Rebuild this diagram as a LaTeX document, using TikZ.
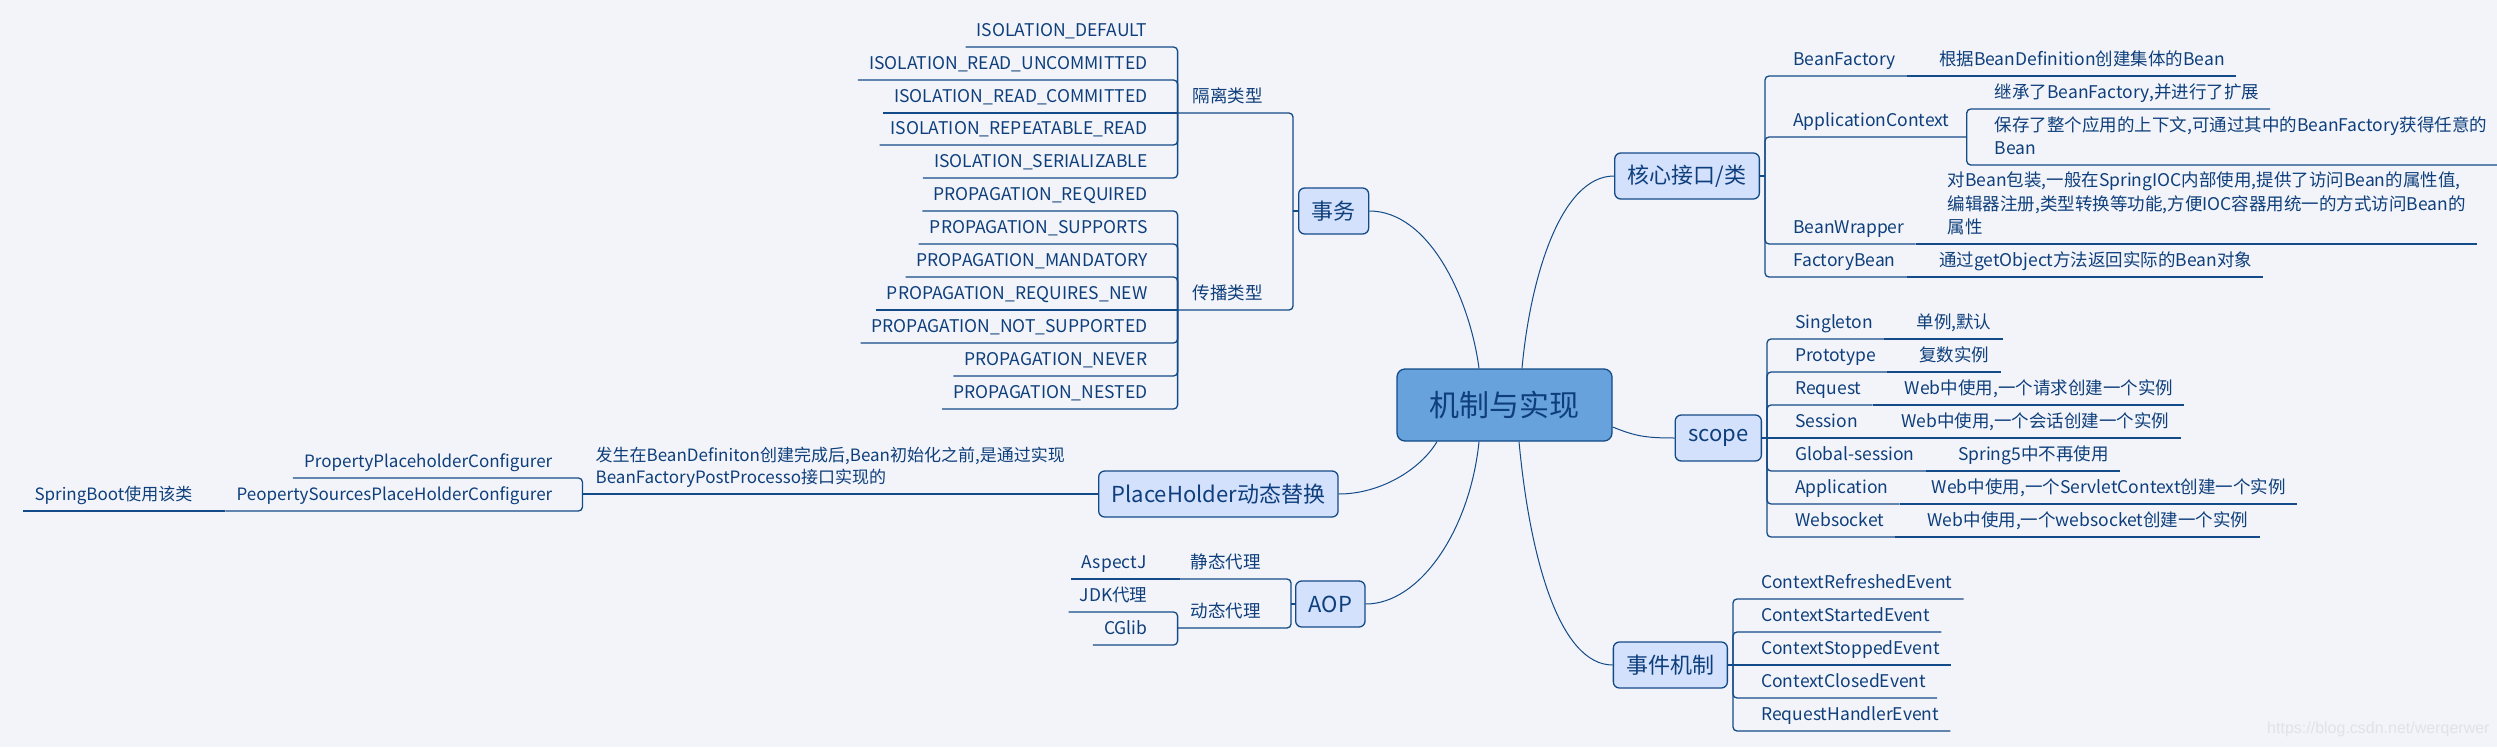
\documentclass[tikz,border=0pt]{standalone}
\usepackage{fontspec}
\setmainfont{Noto Sans CJK SC}
\newfontfamily\wmfont{Liberation Sans}
\definecolor{bgc}{HTML}{F3F4F9}
\definecolor{lnc}{HTML}{134A88}
\definecolor{txc}{HTML}{0E3F7C}
\definecolor{nfc}{HTML}{D3E1FC}
\definecolor{cfc}{HTML}{68A2DD}
\definecolor{wmc}{HTML}{E0E2E9}
\newcommand\ulstrut{\rule[-10pt]{0pt}{10pt}}
\tikzset{
  mainbox/.style={draw=lnc, line width=1.3pt, fill=nfc, rounded corners=6pt, text=txc,
    font=\fontsize{22}{26}\selectfont, minimum height=46pt, inner xsep=13pt, inner ysep=0pt},
  leafL/.style={anchor=south east, inner xsep=11pt, inner ysep=0pt, text=txc,
    font=\fontsize{17.5}{23.5}\selectfont, align=left},
  leafR/.style={anchor=south west, inner xsep=11pt, inner ysep=0pt, text=txc,
    font=\fontsize{17.5}{23.5}\selectfont, align=left},
  smallleaf/.style={font=\fontsize{17}{22}\selectfont},
  conn/.style={draw=lnc, line width=1.3pt, rounded corners=4pt},
  curv/.style={draw=lnc, line width=1pt},
}
\begin{document}
\begin{tikzpicture}[x=1pt,y=-1pt]
\fill[bgc] (0,0) rectangle (2497,747);
\path[use as bounding box] (0,0) rectangle (2497,747);

% ---------- main nodes ----------
\node[mainbox, fill=cfc, font=\fontsize{30}{36}\selectfont, minimum width=215pt, minimum height=72pt, rounded corners=8pt] (root) at (1504.5,405) {机制与实现};
\node[mainbox, anchor=west] (tx) at (1298,211) {事务};
\node[mainbox, anchor=east] (core) at (1760,176) {核心接口/类};
\node[mainbox, anchor=east] (scope) at (1762,438) {scope};
\node[mainbox, anchor=east] (ev) at (1728,665) {事件机制};
\node[mainbox, anchor=west] (aop) at (1295,604) {AOP};
\node[mainbox, anchor=west] (ph) at (1098,494) {PlaceHolder动态替换};

\draw[curv] ([xshift=-25.5]root.north) .. controls (1470,300) and (1430,211) .. (tx.east);
\draw[curv] ([xshift=17.5]root.north) .. controls (1530,280) and (1560,176) .. (core.west);
\draw[curv] ([yshift=-22]root.east) .. controls (1635,436) and (1645,438) .. (scope.west);
\draw[curv] ([xshift=14.5]root.south) .. controls (1530,560) and (1560,665) .. (ev.west);
\draw[curv] ([xshift=-25.5]root.south) .. controls (1470,530) and (1420,604) .. (aop.east);
\draw[curv] ([xshift=-67.5]root.south) .. controls (1420,470) and (1380,494) .. (ph.east);

% ---------- 事务 ----------
\coordinate (txj) at ([xshift=-5]tx.west);
\node[leafL] (iso) at (1274,113) {隔离类型\ulstrut};
\node[leafL] (prop) at (1274,310) {传播类型\ulstrut};
\coordinate (isoj) at ([xshift=-4]iso.south west);
\coordinate (propj) at ([xshift=-4]prop.south west);
\node[leafL, xshift=-19] (iso1) at (isoj |- 0,47) {ISOLATION\_DEFAULT\ulstrut};
\node[leafL, xshift=-19] (iso2) at (isoj |- 0,80) {ISOLATION\_READ\_UNCOMMITTED\ulstrut};
\node[leafL, xshift=-19] (iso3) at (isoj |- 0,113) {ISOLATION\_READ\_COMMITTED\ulstrut};
\node[leafL, xshift=-19] (iso4) at (isoj |- 0,145) {ISOLATION\_REPEATABLE\_READ\ulstrut};
\node[leafL, xshift=-19] (iso5) at (isoj |- 0,178) {ISOLATION\_SERIALIZABLE\ulstrut};
\node[leafL, xshift=-19] (prop1) at (propj |- 0,211) {PROPAGATION\_REQUIRED\ulstrut};
\node[leafL, xshift=-19] (prop2) at (propj |- 0,244) {PROPAGATION\_SUPPORTS\ulstrut};
\node[leafL, xshift=-19] (prop3) at (propj |- 0,277) {PROPAGATION\_MANDATORY\ulstrut};
\node[leafL, xshift=-19] (prop4) at (propj |- 0,310) {PROPAGATION\_REQUIRES\_NEW\ulstrut};
\node[leafL, xshift=-19] (prop5) at (propj |- 0,343) {PROPAGATION\_NOT\_SUPPORTED\ulstrut};
\node[leafL, xshift=-19] (prop6) at (propj |- 0,376) {PROPAGATION\_NEVER\ulstrut};
\node[leafL, xshift=-19] (prop7) at (propj |- 0,409) {PROPAGATION\_NESTED\ulstrut};
\draw[conn] (tx.west) -- (txj);
\draw[conn] (txj) |- (isoj);
\draw[conn] (txj) |- (propj);
\draw[conn] (isoj) |- (iso1.south west);
\draw[conn] (isoj) |- (iso2.south west);
\draw[conn] (isoj) -- (iso3.south west);
\draw[conn] (isoj) |- (iso4.south west);
\draw[conn] (isoj) |- (iso5.south west);
\draw[conn] (propj) |- (prop1.south west);
\draw[conn] (propj) |- (prop2.south west);
\draw[conn] (propj) |- (prop3.south west);
\draw[conn] (propj) -- (prop4.south west);
\draw[conn] (propj) |- (prop5.south west);
\draw[conn] (propj) |- (prop6.south west);
\draw[conn] (propj) |- (prop7.south west);

% ---------- PlaceHolder ----------
\node[leafL, smallleaf] (desc) at ([xshift=-22]ph.west) {发生在BeanDefiniton创建完成后,Bean初始化之前,是通过实现\\BeanFactoryPostProcesso接口实现的\ulstrut};
\coordinate (descj) at ([xshift=-2]desc.south west);
\node[leafL, smallleaf, xshift=-19] (pp1) at (descj |- 0,478) {PropertyPlaceholderConfigurer\ulstrut};
\node[leafL, smallleaf, xshift=-19] (pp2) at (descj |- 0,511) {PeopertySourcesPlaceHolderConfigurer\ulstrut};
\node[leafL, smallleaf] (sb) at ([xshift=-22]pp2.south west) {SpringBoot使用该类\ulstrut};
\draw[conn] (ph.west) -- (descj);
\draw[conn] (descj) |- (pp1.south west);
\draw[conn] (descj) |- (pp2.south west);
\draw[conn] (pp2.south west) -- (sb.south west);

% ---------- AOP ----------
\coordinate (aopj) at ([xshift=-4]aop.west);
\node[leafL, xshift=-19] (stat) at (aopj |- 0,579) {静态代理\ulstrut};
\node[leafL, xshift=-19] (dyn) at (aopj |- 0,628) {动态代理\ulstrut};
\node[leafL] (aspj) at ([xshift=-22]stat.south west) {AspectJ\ulstrut};
\coordinate (dynj) at ([xshift=-2]dyn.south west);
\node[leafL, xshift=-19] (jdk) at (dynj |- 0,612) {JDK代理\ulstrut};
\node[leafL, xshift=-19] (cgl) at (dynj |- 0,645) {CGlib\ulstrut};
\draw[conn] (aop.west) -- (aopj);
\draw[conn] (aopj) |- (stat.south west);
\draw[conn] (stat.south west) -- (aspj.south west);
\draw[conn] (aopj) |- (dynj);
\draw[conn] (dynj) |- (jdk.south west);
\draw[conn] (dynj) |- (cgl.south west);

% ---------- 核心接口/类 ----------
\coordinate (corej) at ([xshift=5]core.east);
\node[leafR, xshift=17] (bf) at (corej |- 0,76) {BeanFactory\ulstrut};
\node[leafR] (bfd) at ([xshift=21]bf.south east) {根据BeanDefinition创建集体的Bean\ulstrut};
\node[leafR, xshift=17] (ac) at (corej |- 0,137) {ApplicationContext\ulstrut};
\coordinate (acj) at ([xshift=6]ac.south east);
\node[leafR, xshift=17] (ac1) at (acj |- 0,109) {继承了BeanFactory,并进行了扩展\ulstrut};
\node[leafR, xshift=17] (ac2) at (acj |- 0,165) {保存了整个应用的上下文,可通过其中的BeanFactory获得任意的\\Bean\ulstrut};
\node[leafR, xshift=17] (bw) at (corej |- 0,244) {BeanWrapper\ulstrut};
\node[leafR] (bwd) at ([xshift=21]bw.south east) {对Bean包装,一般在SpringIOC内部使用,提供了访问Bean的属性值,\\编辑器注册,类型转换等功能,方便IOC容器用统一的方式访问Bean的\\属性\ulstrut};
\node[leafR, xshift=17] (fb) at (corej |- 0,277) {FactoryBean\ulstrut};
\node[leafR] (fbd) at ([xshift=21]fb.south east) {通过getObject方法返回实际的Bean对象\ulstrut};
\draw[conn] (core.east) -- (corej);
\draw[conn] (corej) |- (bf.south east);
\draw[conn] (bf.south east) -- (bfd.south east);
\draw[conn] (corej) |- (acj);
\draw[conn] (acj) |- (ac1.south east);
\draw[conn] (acj) |- (ac2.south east);
\draw[conn] (corej) |- (bw.south east);
\draw[conn] (bw.south east) -- (bwd.south east);
\draw[conn] (corej) |- (fb.south east);
\draw[conn] (fb.south east) -- (fbd.south east);

% ---------- scope ----------
\coordinate (scj) at ([xshift=5]scope.east);
\node[leafR, xshift=17] (s1) at (scj |- 0,339) {Singleton\ulstrut};
\node[leafR] (s1d) at ([xshift=21]s1.south east) {单例,默认\ulstrut};
\node[leafR, xshift=17] (s2) at (scj |- 0,372) {Prototype\ulstrut};
\node[leafR] (s2d) at ([xshift=21]s2.south east) {复数实例\ulstrut};
\node[leafR, xshift=17] (s3) at (scj |- 0,405) {Request\ulstrut};
\node[leafR] (s3d) at ([xshift=21]s3.south east) {Web中使用,一个请求创建一个实例\ulstrut};
\node[leafR, xshift=17] (s4) at (scj |- 0,438) {Session\ulstrut};
\node[leafR] (s4d) at ([xshift=21]s4.south east) {Web中使用,一个会话创建一个实例\ulstrut};
\node[leafR, xshift=17] (s5) at (scj |- 0,471) {Global-session\ulstrut};
\node[leafR] (s5d) at ([xshift=21]s5.south east) {Spring5中不再使用\ulstrut};
\node[leafR, xshift=17] (s6) at (scj |- 0,504) {Application\ulstrut};
\node[leafR] (s6d) at ([xshift=21]s6.south east) {Web中使用,一个ServletContext创建一个实例\ulstrut};
\node[leafR, xshift=17] (s7) at (scj |- 0,537) {Websocket\ulstrut};
\node[leafR] (s7d) at ([xshift=21]s7.south east) {Web中使用,一个websocket创建一个实例\ulstrut};
\draw[conn] (scope.east) -- (scj);
\foreach \n in {s1,s2,s3,s5,s6,s7} {\draw[conn] (scj) |- (\n.south east);}
\draw[conn] (scj) -- (s4.south east);
\foreach \n in {s1,s2,s3,s4,s5,s6,s7} {\draw[conn] (\n.south east) -- (\n d.south east);}

% ---------- 事件机制 ----------
\coordinate (evj) at ([xshift=5]ev.east);
\node[leafR, xshift=17] (e1) at (evj |- 0,599) {ContextRefreshedEvent\ulstrut};
\node[leafR, xshift=17] (e2) at (evj |- 0,632) {ContextStartedEvent\ulstrut};
\node[leafR, xshift=17] (e3) at (evj |- 0,665) {ContextStoppedEvent\ulstrut};
\node[leafR, xshift=17] (e4) at (evj |- 0,698) {ContextClosedEvent\ulstrut};
\node[leafR, xshift=17] (e5) at (evj |- 0,731) {RequestHandlerEvent\ulstrut};
\draw[conn] (ev.east) -- (evj);
\draw[conn] (evj) |- (e1.south east);
\draw[conn] (evj) |- (e2.south east);
\draw[conn] (evj) -- (e3.south east);
\draw[conn] (evj) |- (e4.south east);
\draw[conn] (evj) |- (e5.south east);

% ---------- watermark ----------
\node[anchor=base west, inner sep=0pt, text=wmc, font=\wmfont\fontsize{16}{18}\selectfont] (wmk) at (2267,733) {https://blog.csdn.net/werqerwer};
\end{tikzpicture}
\end{document}
